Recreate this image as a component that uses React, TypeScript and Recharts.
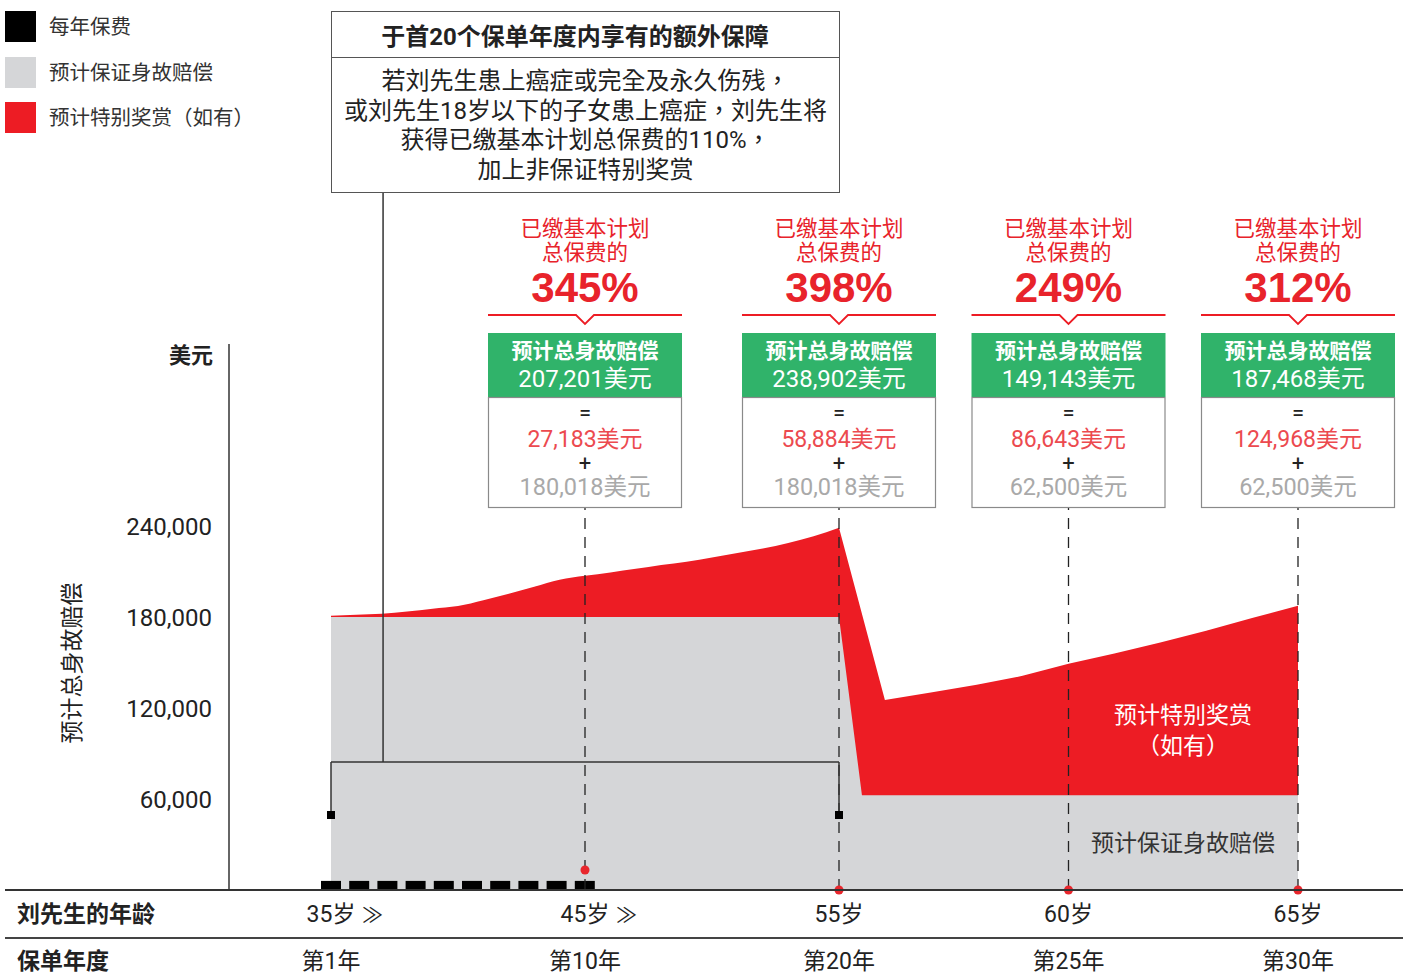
import React from 'react';
import { ComposedChart, Area, Bar, XAxis, YAxis, ReferenceLine, ReferenceDot } from 'recharts';

// ---------- data ----------
const agesFirst20 = [35, 36, 37, 38, 39, 40, 41, 42, 43, 44, 45, 46, 47, 48, 49, 50, 51, 52, 53, 54, 55];
const totalFirst20 = [180900, 181500, 182200, 183600, 185500, 187200, 191000, 195300, 200000, 204600, 207201, 209400, 211800, 214300, 216500, 219300, 222200, 225100, 228800, 233200, 238902];
const agesLater = [55, 56, 57, 58, 59, 60, 61, 62, 63, 64, 65];
const totalLater = [238902, 125300, 130200, 135300, 141200, 149143, 155900, 163200, 171000, 179300, 187468];
const guaranteedAgesFirst = [35, 55];
const guaranteedFirst = [180018, 180018];
const guaranteedAgesLater = [55, 55.5, 65];
const guaranteedLater = [180018, 62500, 62500];
const premiumYears = ['1', '2', '3', '4', '5', '6', '7', '8', '9', '10'];
const premiumValues = [6000, 6000, 6000, 6000, 6000, 6000, 6000, 6000, 6000, 6000];

const yTicks = [60000, 120000, 180000, 240000];
const ageTicks = [35, 45, 55, 60, 65];
const ageTickLabels = ['35岁', '45岁', '55岁', '60岁', '65岁'];
const ageTickSuffix = ['≫', '≫', '', '', ''];
const policyYearLabels = ['第1年', '第10年', '第20年', '第25年', '第30年'];

const calloutAges = [45, 55, 60, 65];
const calloutPct = ['345%', '398%', '249%', '312%'];
const calloutTotal = ['207,201', '238,902', '149,143', '187,468'];
const calloutBonus = ['27,183', '58,884', '86,643', '124,968'];
const calloutGuaranteed = ['180,018', '180,018', '62,500', '62,500'];
const calloutDotValue = [13200, 0, 0, 0];

const legendLabels = ['每年保费', '预计保证身故赔偿', '预计特别奖赏（如有）'];
const boxTitle = '于首20个保单年度内享有的额外保障';
const boxLines = ['若刘先生患上癌症或完全及永久伤残，', '或刘先生18岁以下的子女患上癌症，刘先生将', '获得已缴基本计划总保费的110%，', '加上非保证特别奖赏'];

// ---------- built tables ----------
const redFirst = agesFirst20.map((a, i) => ({ age: a, total: totalFirst20[i] }));
const redLater = agesLater.map((a, i) => ({ age: a, total: totalLater[i] }));
const greyFirst = guaranteedAgesFirst.map((a, i) => ({ age: a, guaranteed: guaranteedFirst[i] }));
const greyLater = guaranteedAgesLater.map((a, i) => ({ age: a, guaranteed: guaranteedLater[i] }));
const premiumRows = premiumYears.map((y, i) => ({ year: y, premium: premiumValues[i] }));

// ---------- styles / layout ----------
const W = 1403;
const H = 973;
const RED = '#ed1c24';
const RED_TEXT = '#e8232b';
const RED_LIGHT = '#ec4a4f';
const GREEN = '#30b36a';
const GREY_AREA = '#d5d6d8';
const GREY_TEXT = '#a9a9a9';
const DARK = '#222';
const FONT = "Roboto, 'Noto Sans CJK SC', sans-serif";
const FONT_TC = "Roboto, 'Noto Sans CJK TC', sans-serif";
const ROW1_Y = 914;
const ROW2_Y = 961;
const BRACKET_Y = 84400;
const BRACKET_END_Y = 49450;
const CONNECTOR_TOP_Y = 460220;
const CONNECTOR_AGE = 37.05;

const axisFor = (age: number) => (age <= 55 ? 'A' : 'B');

const AgeTick = (props: any) => {
  const { x, payload } = props;
  const i = ageTicks.indexOf(payload.value);
  if (i < 0) return <g />;
  return (
    <g>
      <text x={x} y={ROW1_Y} textAnchor="middle" dominantBaseline="central" fontSize={23} fill={DARK}>{ageTickLabels[i]}</text>
      {ageTickSuffix[i] ? (
        <text x={x + 31} y={ROW1_Y + 1} textAnchor="start" dominantBaseline="central" fontSize={21} fill={DARK}>{ageTickSuffix[i]}</text>
      ) : null}
      <text x={x} y={ROW2_Y} textAnchor="middle" dominantBaseline="central" fontSize={23} fill={DARK}>{policyYearLabels[i]}</text>
    </g>
  );
};

const Callout = (props: any) => {
  const { viewBox, idx } = props;
  if (!viewBox) return null;
  const x = viewBox.x;
  const hw = 97;
  return (
    <g>
      <text x={x} y={228} textAnchor="middle" dominantBaseline="central" fontSize={21.5} fill={RED_TEXT}>已缴基本计划</text>
      <text x={x} y={252} textAnchor="middle" dominantBaseline="central" fontSize={21.5} fill={RED_TEXT}>总保费的</text>
      <text x={x} y={287} textAnchor="middle" dominantBaseline="central" fontSize={42} fontWeight={700} fontFamily="'Liberation Sans', Arial, sans-serif" fill={RED_TEXT}>{calloutPct[idx]}</text>
      <path d={`M${x - hw},315 H${x - 9} L${x},324 L${x + 9},315 H${x + hw}`} stroke={RED} strokeWidth={1.8} fill="none" />
      <rect x={x - hw} y={333} width={hw * 2} height={64} fill={GREEN} />
      <text x={x} y={351} textAnchor="middle" dominantBaseline="central" fontSize={21} fontWeight={700} fill="#fff">预计总身故赔偿</text>
      <text x={x} y={379} textAnchor="middle" dominantBaseline="central" fontSize={24} fill="#fff">{calloutTotal[idx]}美元</text>
      <rect x={x - hw + 0.5} y={397.5} width={hw * 2 - 1} height={110} fill="#fff" stroke="#8a8a8a" strokeWidth={1.2} />
      <text x={x} y={412} textAnchor="middle" dominantBaseline="central" fontSize={22} fill={DARK}>=</text>
      <text x={x} y={439} textAnchor="middle" dominantBaseline="central" fontSize={23} fill={RED_LIGHT}>{calloutBonus[idx]}美元</text>
      <text x={x} y={463} textAnchor="middle" dominantBaseline="central" fontSize={22} fill={DARK}>+</text>
      <text x={x} y={487} textAnchor="middle" dominantBaseline="central" fontSize={23.5} fill={GREY_TEXT}>{calloutGuaranteed[idx]}美元</text>
    </g>
  );
};

const squareShape = (p: any) => <rect x={p.cx - 4} y={p.cy - 4} width={8} height={8} fill="#000" />;

const legendColors = ['#000', GREY_AREA, RED];

export default function App() {
  return (
    <div style={{ position: 'absolute', left: 0, top: 0, width: W, height: H, fontFamily: FONT, background: '#fff', color: DARK }}>
      <ComposedChart width={W} height={H} data={premiumRows} margin={{ top: 344, right: 0, bottom: 81, left: 0 }}>
        <XAxis xAxisId="A" dataKey="age" type="number" domain={[35, 55]} allowDataOverflow padding={{ left: 102, right: 564 }} ticks={[35, 45, 55]} interval={0} tick={<AgeTick />} tickLine={false} axisLine={false} tickSize={0} tickMargin={0} height={1} />
        <XAxis xAxisId="B" dataKey="age" type="number" domain={[55, 65]} allowDataOverflow padding={{ left: 610, right: 105 }} ticks={[60, 65]} interval={0} tick={<AgeTick />} tickLine={false} axisLine={false} tickSize={0} tickMargin={0} height={1} />
        <XAxis xAxisId="C" dataKey="year" type="category" padding={{ left: 88, right: 804 }} hide />
        <YAxis type="number" domain={[0, 360000]} allowDataOverflow ticks={yTicks} interval={0} width={229} tickLine={false} tickSize={0} tickMargin={17} axisLine={{ stroke: '#333', strokeWidth: 1.5 }} tick={{ fontSize: 24, fill: DARK }} tickFormatter={(v: number) => v.toLocaleString('en-US')} />

        <Area xAxisId="A" data={redFirst} dataKey="total" type="monotone" fill={RED} fillOpacity={1} stroke="none" isAnimationActive={false} />
        <Area xAxisId="B" data={redLater} dataKey="total" type="linear" fill={RED} fillOpacity={1} stroke="none" isAnimationActive={false} />
        <Area xAxisId="A" data={greyFirst} dataKey="guaranteed" type="linear" fill={GREY_AREA} fillOpacity={1} stroke="none" isAnimationActive={false} />
        <Area xAxisId="B" data={greyLater} dataKey="guaranteed" type="linear" fill={GREY_AREA} fillOpacity={1} stroke="none" isAnimationActive={false} />
        <Bar xAxisId="C" dataKey="premium" fill="#000" barSize={20} isAnimationActive={false} />

        {calloutAges.map((age, i) => (
          <ReferenceLine key={`cl${age}`} xAxisId={axisFor(age)} x={age} stroke={DARK} strokeWidth={1.3} strokeDasharray="11 8" label={<Callout idx={i} />} />
        ))}

        <ReferenceLine xAxisId="A" segment={[{ x: 35, y: BRACKET_END_Y }, { x: 35, y: BRACKET_Y }]} stroke="#333" strokeWidth={1.5} ifOverflow="visible" />
        <ReferenceLine xAxisId="A" segment={[{ x: 35, y: BRACKET_Y }, { x: 55, y: BRACKET_Y }]} stroke="#333" strokeWidth={1.5} ifOverflow="visible" />
        <ReferenceLine xAxisId="A" segment={[{ x: 55, y: BRACKET_Y }, { x: 55, y: BRACKET_END_Y }]} stroke="#333" strokeWidth={1.5} ifOverflow="visible" />
        <ReferenceLine xAxisId="A" segment={[{ x: CONNECTOR_AGE, y: BRACKET_Y }, { x: CONNECTOR_AGE, y: CONNECTOR_TOP_Y }]} stroke="#333" strokeWidth={1.5} ifOverflow="visible" />
        <ReferenceDot xAxisId="A" x={35} y={BRACKET_END_Y} r={4} shape={squareShape} ifOverflow="visible" />
        <ReferenceDot xAxisId="A" x={55} y={BRACKET_END_Y} r={4} shape={squareShape} ifOverflow="visible" />

        {calloutAges.map((age, i) => (
          <ReferenceDot key={`dot${age}`} xAxisId={axisFor(age)} x={age} y={calloutDotValue[i]} r={4.5} fill="#e8262c" stroke="none" ifOverflow="visible" />
        ))}
      </ComposedChart>

      {/* axis rules */}
      <div style={{ position: 'absolute', left: 5, top: 889, width: W - 5, height: 2, background: '#333' }} />
      <div style={{ position: 'absolute', left: 5, top: 937, width: W - 5, height: 1.6, background: '#444' }} />
      <div style={{ position: 'absolute', left: 17, top: ROW1_Y, transform: 'translateY(-50%)', fontSize: 23, fontWeight: 700, lineHeight: 1, whiteSpace: 'nowrap' }}>刘先生的年龄</div>
      <div style={{ position: 'absolute', left: 17, top: ROW2_Y, transform: 'translateY(-50%)', fontSize: 23, fontWeight: 700, lineHeight: 1, whiteSpace: 'nowrap' }}>保单年度</div>

      {/* y axis titles */}
      <div style={{ position: 'absolute', right: W - 213, top: 356, transform: 'translateY(-50%)', fontSize: 22, fontWeight: 700, lineHeight: 1, whiteSpace: 'nowrap' }}>美元</div>
      <div style={{ position: 'absolute', left: 72, top: 663, transform: 'translate(-50%, -50%) rotate(-90deg)', fontSize: 23, lineHeight: 1, whiteSpace: 'nowrap' }}>预计总身故赔偿</div>

      {/* legend */}
      {legendLabels.map((l, i) => (
        <div key={l}>
          <div style={{ position: 'absolute', left: 5, top: 11 + i * 45.5, width: 31, height: 31, background: legendColors[i] }} />
          <div style={{ position: 'absolute', left: 49, top: 27 + i * 45.5, transform: 'translateY(-50%)', fontSize: 20.5, lineHeight: 1, color: '#333', whiteSpace: 'nowrap' }}>{l}</div>
        </div>
      ))}

      {/* annotation box */}
      <div style={{ position: 'absolute', left: 331, top: 11, width: 509, height: 182, boxSizing: 'border-box', border: '1.3px solid #555', background: '#fff' }}>
        <div style={{ height: 46, boxSizing: 'border-box', borderBottom: '1.3px solid #555', display: 'flex', alignItems: 'center', justifyContent: 'center', paddingRight: 21, fontWeight: 700, fontSize: 24, whiteSpace: 'nowrap' }}>{boxTitle}</div>
        <div style={{ paddingTop: 9, lineHeight: '29.6px', fontSize: 24, textAlign: 'center', whiteSpace: 'nowrap', fontFamily: FONT_TC }}>
          {boxLines.map((l) => <div key={l}>{l}</div>)}
        </div>
      </div>

      {/* area labels */}
      <div style={{ position: 'absolute', left: 1183, top: 715, transform: 'translate(-50%, -50%)', fontSize: 23, lineHeight: 1, color: '#fff', whiteSpace: 'nowrap' }}>预计特别奖赏</div>
      <div style={{ position: 'absolute', left: 1183, top: 746, transform: 'translate(-50%, -50%)', fontSize: 23, lineHeight: 1, color: '#fff', whiteSpace: 'nowrap' }}>（如有）</div>
      <div style={{ position: 'absolute', left: 1183, top: 843, transform: 'translate(-50%, -50%)', fontSize: 23, lineHeight: 1, color: '#333', whiteSpace: 'nowrap' }}>预计保证身故赔偿</div>
    </div>
  );
}
